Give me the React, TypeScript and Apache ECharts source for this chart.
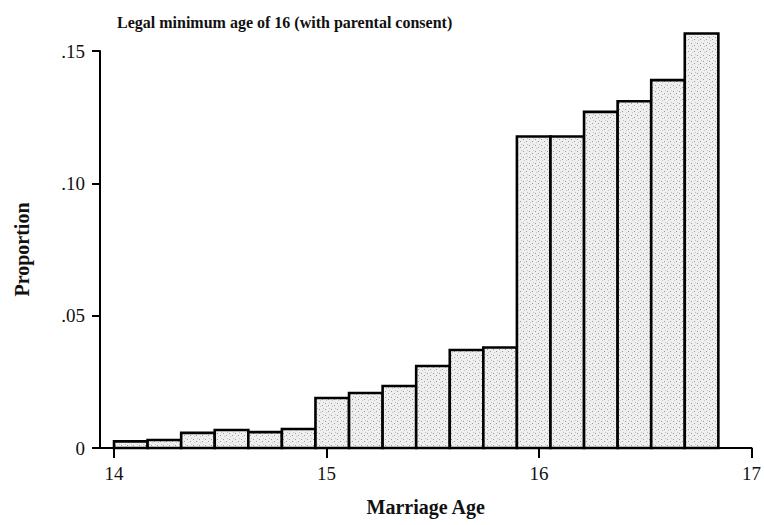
import React, { useEffect, useRef } from "react";
import * as echarts from "echarts";

const TITLE = "Legal minimum age of 16 (with parental consent)";
const X_NAME = "Marriage Age";
const Y_NAME = "Proportion";
const X_MIN = 13.934;
const X_MAX = 17;
const X_TICKS = [14, 15, 16, 17];
const BIN_START = 14;
const BIN_WIDTH = 0.158;
const proportions = [
  0.0025, 0.003, 0.0057, 0.0068, 0.006, 0.0072, 0.0189, 0.0208, 0.0234, 0.031,
  0.037, 0.038, 0.1177, 0.1177, 0.127, 0.131, 0.139, 0.1566,
];
const yTickLabels: Record<string, string> = { "0": "0", "0.05": ".05", "0.1": ".10", "0.15": ".15" };

const FONT = "'Liberation Serif', 'DejaVu Serif', serif";

function makeStipple(): any {
  const c = document.createElement("canvas");
  c.width = 6;
  c.height = 6;
  const ctx = c.getContext("2d");
  if (!ctx) return "#e6e6e6";
  ctx.fillStyle = "#efefef";
  ctx.fillRect(0, 0, 6, 6);
  ctx.fillStyle = "#9a9a9a";
  ctx.fillRect(1, 1, 1, 1);
  ctx.fillRect(4, 3, 1, 1);
  ctx.fillStyle = "#c4c4c4";
  ctx.fillRect(2, 4, 1, 1);
  ctx.fillRect(5, 0, 1, 1);
  return { image: c, repeat: "repeat" };
}

export default function App() {
  const ref = useRef<HTMLDivElement>(null);
  useEffect(() => {
    if (!ref.current) return;
    const chart = echarts.init(ref.current, null, { renderer: "svg" });
    const stipple = makeStipple();
    const data = proportions.map((v, i) => [BIN_START + i * BIN_WIDTH, BIN_START + (i + 1) * BIN_WIDTH, v]);
    chart.setOption({
      animation: false,
      backgroundColor: "#ffffff",
      title: {
        text: TITLE,
        left: 112,
        top: 9,
        textStyle: { fontFamily: FONT, fontWeight: "bold", fontSize: 16, color: "#111" },
      },
      grid: { left: 100, right: 11, top: 51, bottom: 77 },
      xAxis: {
        type: "value",
        min: X_MIN,
        max: X_MAX,
        name: X_NAME,
        nameLocation: "middle",
        nameGap: 49,
        nameTextStyle: { fontFamily: FONT, fontWeight: "bold", fontSize: 20, color: "#111" },
        axisLine: { show: true, onZero: false, lineStyle: { color: "#000", width: 2 } },
        axisTick: { show: true, length: 10, customValues: X_TICKS, lineStyle: { color: "#000", width: 2 } },
        axisLabel: { fontFamily: FONT, fontSize: 19, color: "#111", margin: 16, customValues: X_TICKS },
        splitLine: { show: false },
      },
      yAxis: {
        type: "value",
        min: 0,
        max: 0.15,
        interval: 0.05,
        name: Y_NAME,
        nameLocation: "middle",
        nameGap: 68,
        nameTextStyle: { fontFamily: FONT, fontWeight: "bold", fontSize: 20, color: "#111" },
        axisLine: { show: true, lineStyle: { color: "#000", width: 2 } },
        axisTick: { show: true, length: 8, lineStyle: { color: "#000", width: 2 } },
        axisLabel: {
          fontFamily: FONT,
          fontSize: 19,
          color: "#111",
          margin: 15,
          formatter: (v: number) => yTickLabels[String(Math.round(v * 100) / 100)] ?? String(v),
        },
        splitLine: { show: false },
      },
      series: [
        {
          type: "custom",
          data,
          renderItem: (params: any, api: any) => {
            const s = api.value(0);
            const e = api.value(1);
            const v = api.value(2);
            const p0 = api.coord([s, v]);
            const p1 = api.coord([e, 0]);
            return {
              type: "rect",
              shape: { x: p0[0], y: p0[1], width: p1[0] - p0[0], height: p1[1] - p0[1] },
              style: { fill: stipple, stroke: "#000", lineWidth: 2.6 },
            };
          },
          encode: { x: [0, 1], y: 2 },
        },
      ],
    });
    return () => chart.dispose();
  }, []);
  return <div ref={ref} style={{ position: "fixed", left: 0, top: 0, width: 764, height: 525 }} />;
}
